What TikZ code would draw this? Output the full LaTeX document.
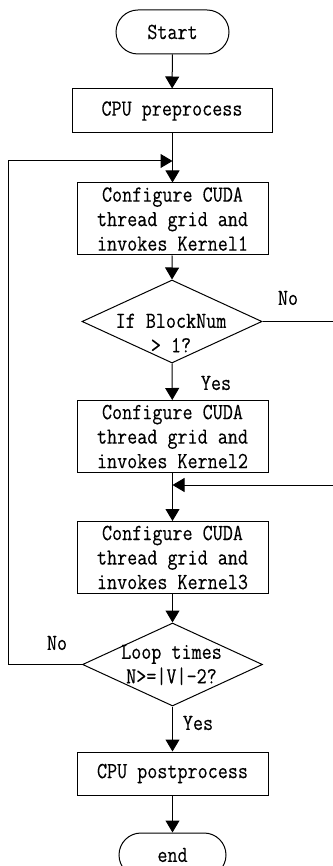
\documentclass[tikz,border=0pt]{standalone}
\usepackage{fontspec}
\usetikzlibrary{arrows.meta,shapes.geometric}
\newfontfamily\flowfont[FakeStretch=0.85,FakeBold=0.25]{Latin Modern Mono}
\begin{document}
\begin{tikzpicture}[x=1pt,y=-1pt,
  every node/.style={font=\flowfont\fontsize{23}{24.5}\selectfont},
  flowline/.style={line width=1pt},
  flowarrow/.style={flowline,-{Triangle[width=14pt,length=12pt]}},
  terminal/.style={draw,line width=1pt,rounded corners=22pt,minimum width=113pt,minimum height=44pt,inner sep=0pt},
  process/.style={draw,line width=1pt,minimum width=191pt,minimum height=72pt,inner sep=0pt,align=center},
  decision/.style={draw,line width=1pt,diamond,minimum width=180pt,minimum height=83pt,inner sep=0pt},
  tag/.style={inner sep=0pt}]
\useasboundingbox (0,0) rectangle (332,866);
\fill[white] (0,0) rectangle (332,866);

% main column
\node[terminal] (start) at (172.5,32) {Start};
\node[process,minimum width=200pt,minimum height=44pt] (pre) at (172,111) {CPU preprocess};
\node[process] (k1) at (172.5,219) {Configure CUDA\\thread grid and\\invokes Kernel1};
\node[decision] (d1) at (172,321.5) {};
\node[tag,align=center] (d1t) at (171,333) {If BlockNum\\> 1?};
\node[process] (k2) at (172.5,436.5) {Configure CUDA\\thread grid and\\invokes Kernel2};
\node[process] (k3) at (172.5,557.5) {Configure CUDA\\thread grid and\\invokes Kernel3};
\node[decision] (d2) at (172.5,664.5) {};
\node[tag,align=center] (d2t) at (171.5,665) {Loop times\\N>=|V|-2?};
\node[process,minimum height=43pt] (post) at (172.5,773.5) {CPU postprocess};
\node[terminal,minimum width=107pt] (end) at (172.5,855) {end};

% branch labels
\node[tag] (yes1) at (216,383) {Yes};
\node[tag] (no1) at (288,298) {No};
\node[tag] (yes2) at (198,723) {Yes};
\node[tag] (no2) at (57,643) {No};

% junctions of the loop-back and skip lines
\coordinate (loopin) at (172.5,161);
\coordinate (loopcorner1) at (8,664.5);
\coordinate (loopcorner2) at (8,161);
\coordinate (skipin) at (172.5,485);
\coordinate (skipcorner1) at (334,321.5);
\coordinate (skipcorner2) at (334,485);

% connectors
\draw[flowarrow] (start) -- (pre);
\draw[flowarrow] (pre.south -| k1.north) -- (k1);
\draw[flowarrow] (k1) -- (d1.north);
\draw[flowarrow] (d1.south) -- (k2);
\draw[flowarrow] (k2) -- (k3);
\draw[flowarrow] (k3) -- (d2.north);
\draw[flowarrow] (d2.south) -- (post);
\draw[flowarrow] (post) -- (end);
\draw[flowarrow] (d2.west) -- (loopcorner1) -- (loopcorner2) -- (loopin);
\draw[flowarrow] (d1.east) -- (skipcorner1) -- (skipcorner2) -- (skipin);
\end{tikzpicture}
\end{document}
